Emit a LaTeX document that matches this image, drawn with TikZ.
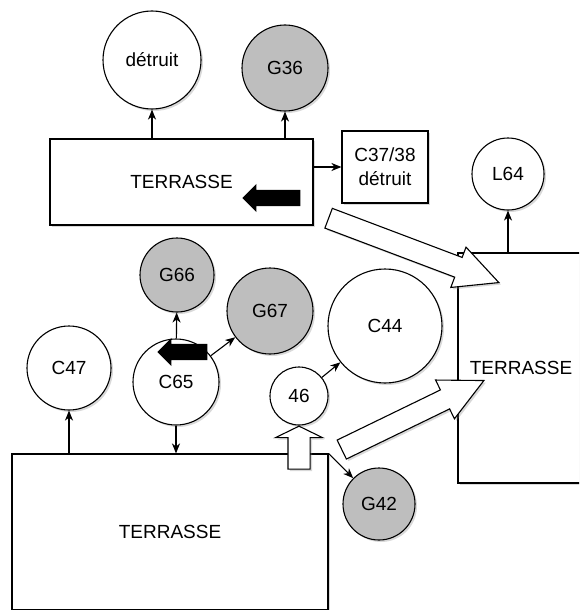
\documentclass[tikz,border=0pt]{standalone}
\usepackage{fontspec}
\setmainfont{Liberation Sans}
\usepackage{xcolor}
\definecolor{pitgrey}{RGB}{190,190,190}
\usepackage{tikz}
\usetikzlibrary{arrows.meta,shapes.arrows,shadows}

\begin{document}
\begin{tikzpicture}[x=1pt,y=-1pt,font=\fontsize{19}{24}\selectfont,
    softshadow/.style={drop shadow={opacity=0.3,shadow xshift=2pt,shadow yshift=-2pt}},
    zone/.style={draw,fill=white,line width=1.1pt,inner sep=0pt,softshadow},
    pit/.style={circle,draw,fill=white,line width=1.1pt,inner sep=0pt,softshadow},
    greypit/.style={pit,fill=pitgrey},
    tie/.style={line width=1.1pt,-{Stealth[length=10pt,width=8pt,inset=3pt]}},
    hollow/.style={single arrow,draw,fill=white,line width=1.1pt,inner xsep=0pt,inner ysep=10pt,
      single arrow head extend=11pt,single arrow tip angle=53,softshadow},
    pusharrow/.style={single arrow,fill=black,inner xsep=0pt,inner ysep=8pt,
      single arrow head extend=6pt,single arrow tip angle=90,shape border rotate=180}]
  \path[use as bounding box,clip] (0,0) rectangle (579,610);
  % terrasse nord
  \node[zone,minimum width=263pt,minimum height=86pt] (terN) at (181.5,182) {TERRASSE};
  \node[pit,minimum size=98pt] (det) at (152,60) {détruit};
  \node[greypit,minimum size=86pt] (G36) at (285,68) {G36};
  \node[zone,minimum width=86pt,minimum height=72pt,align=center] (C3738) at (385,167) {C37/38\\détruit};
  % terrasse est
  \node[zone,minimum width=126pt,minimum height=230pt] (terE) at (521,368) {TERRASSE};
  \node[pit,minimum size=72pt] (L64) at (508,174) {L64};
  % terrasse sud
  \node[zone,minimum width=316pt,minimum height=156pt] (terS) at (170,532) {TERRASSE};
  \node[pit,minimum size=84pt] (C47) at (69,368) {C47};
  \node[pit,minimum size=86pt] (C65) at (176,382) {C65};
  \node[greypit,minimum size=74pt] (G66) at (177,275) {G66};
  \node[greypit,minimum size=86pt] (G67) at (270,311) {G67};
  \node[pit,minimum size=114pt] (C44) at (385,326) {C44};
  \node[pit,minimum size=58pt] (n46) at (299,396) {46};
  \node[greypit,minimum size=72pt] (G42) at (379,504) {G42};

  \draw[tie] (det |- terN.north) -- (det);
  \draw[tie] (G36 |- terN.north) -- (G36);
  \draw[tie] (terN.east |- C3738) -- (C3738);
  \draw[tie] (L64 |- terE.north) -- (L64);
  \draw[tie] (C47 |- terS.north) -- (C47);
  \draw[tie] (C65) -- (G66);
  \draw[tie] (C65) -- (G67);
  \draw[tie] (C65.south) -- (C65 |- terS.north);
  \draw[tie] (n46) -- (C44);
  \draw[tie] (terS.north east) -- (G42);

  \node[hollow,minimum height=182pt,rotate=-20.7,anchor=tip] (moveN) at (500,283) {};
  \node[hollow,minimum height=158pt,rotate=25.9,anchor=tip] (moveS) at (485,380) {};
  \node[hollow,minimum height=43pt,inner ysep=10.5pt,single arrow head extend=12.5pt,
    single arrow tip angle=128,rotate=90,anchor=tip] (move46) at (n46.south) {};
  \node[pusharrow,minimum height=58pt,anchor=tip] (pushN) at (242,198) {};
  \node[pusharrow,minimum height=50pt,anchor=tip] (pushC65) at (157,352) {};
\end{tikzpicture}
\end{document}
